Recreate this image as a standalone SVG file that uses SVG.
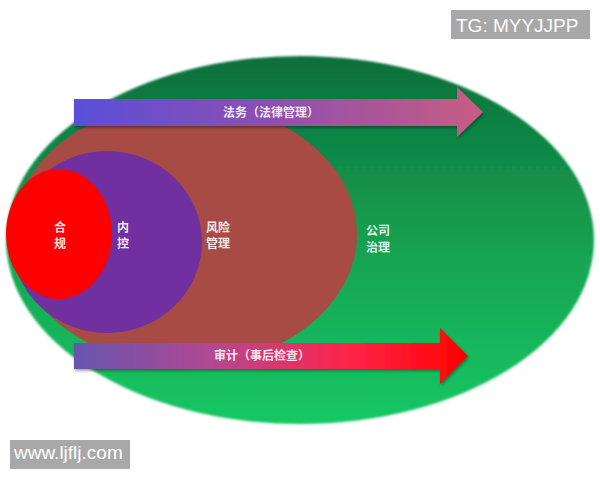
<svg xmlns="http://www.w3.org/2000/svg" width="600" height="480" viewBox="0 0 600 480">
  <defs>
    <linearGradient id="gGreen" x1="0" y1="0" x2="0" y2="1">
      <stop offset="0" stop-color="#0f6f3c"/>
      <stop offset="0.55" stop-color="#14a552"/>
      <stop offset="1" stop-color="#19c765"/>
    </linearGradient>
    <linearGradient id="gTop" x1="74" y1="0" x2="483" y2="0" gradientUnits="userSpaceOnUse">
      <stop offset="0" stop-color="#5a4fd9"/>
      <stop offset="0.45" stop-color="#8a4fb2"/>
      <stop offset="1" stop-color="#c85d82"/>
    </linearGradient>
    <linearGradient id="gBot" x1="74" y1="0" x2="468" y2="0" gradientUnits="userSpaceOnUse">
      <stop offset="0" stop-color="#6655b0"/>
      <stop offset="0.35" stop-color="#b34892"/>
      <stop offset="0.7" stop-color="#ff2448"/>
      <stop offset="1" stop-color="#ff0000"/>
    </linearGradient>
    <filter id="sh" x="-5%" y="-20%" width="110%" height="150%">
      <feDropShadow dx="1" dy="2" stdDeviation="1.5" flood-color="#000" flood-opacity="0.35"/>
    </filter>
    <filter id="soft" x="-5%" y="-5%" width="110%" height="110%">
      <feGaussianBlur stdDeviation="1"/>
    </filter>
  </defs>
  <style>
    .lbl { font-family: "Noto Sans CJK SC", "Noto Sans", sans-serif; font-size: 12px; font-weight: bold; fill: #ffffff; fill-opacity: 0.9; text-anchor: middle; }
    .wm { font-family: "Liberation Sans", Arial, sans-serif; font-size: 19px; fill: #ffffff; }
    .wmbox { fill: #a8a8a8; }
  </style>
  <rect width="600" height="480" fill="#ffffff"/>

  <g id="node-governance">
    <ellipse cx="300" cy="240" rx="294" ry="184" fill="url(#gGreen)" filter="url(#soft)"/>
    <text class="lbl" x="378" y="235">公司</text>
    <text class="lbl" x="378" y="252">治理</text>
  </g>

  <g id="node-risk">
    <ellipse cx="185" cy="234" rx="172" ry="132" fill="#a84b45"/>
    <text class="lbl" x="218" y="232">风险</text>
    <text class="lbl" x="218" y="248">管理</text>
  </g>

  <g id="node-internal-control">
    <ellipse cx="107" cy="242" rx="95" ry="91" fill="#7030a0"/>
    <text class="lbl" x="123" y="232">内</text>
    <text class="lbl" x="123" y="248">控</text>
  </g>

  <g id="node-compliance">
    <ellipse cx="59" cy="234" rx="53" ry="65" fill="#ff0000"/>
    <text class="lbl" x="60" y="232">合</text>
    <text class="lbl" x="60" y="248">规</text>
  </g>

  <g id="connectors">
    <g id="arrow-legal">
      <path d="M74,99 L457,99 L457,87 L483,112 L457,137 L457,126 L74,126 Z" fill="url(#gTop)" filter="url(#sh)"/>
      <text class="lbl" x="271" y="117">法务（法律管理）</text>
    </g>
    <g id="arrow-audit">
      <path d="M74,343 L440,343 L440,328 L468,356 L440,384 L440,369 L74,369 Z" fill="url(#gBot)" filter="url(#sh)"/>
      <text class="lbl" x="262" y="360">审计（事后检查）</text>
    </g>
  </g>

  <g id="watermark-tg">
    <rect class="wmbox" x="451" y="10" width="139" height="29"/>
    <text class="wm" x="456" y="32">TG: MYYJJPP</text>
  </g>
  <g id="watermark-www">
    <rect class="wmbox" x="10" y="440" width="120" height="29"/>
    <text class="wm" x="14" y="459">www.ljflj.com</text>
  </g>
</svg>
